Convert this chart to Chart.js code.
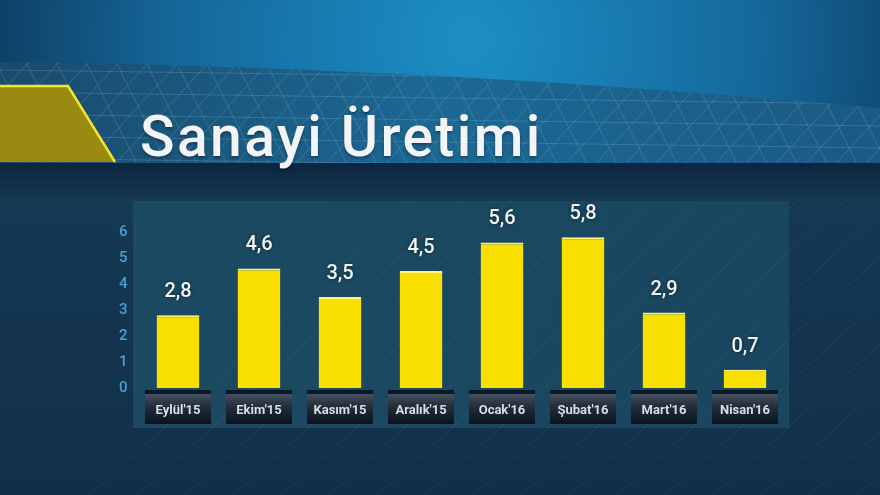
<!DOCTYPE html>
<html>
<head>
<meta charset="utf-8">
<script src="https://cdn.jsdelivr.net/npm/chart.js"></script>
<style>
  html, body { margin: 0; padding: 0; background: #163a55; }
  #wrap { position: relative; width: 880px; height: 495px; overflow: hidden; }
  #chart { position: absolute; left: 0; top: 0; }
  #title {
    position: absolute; left: 140px; top: 103px;
    font-family: Roboto, sans-serif; font-weight: 500; font-size: 57px;
    color: #f2f4f6; letter-spacing: 2.4px; white-space: nowrap;
    text-shadow: 0 2px 3px rgba(0,0,0,0.35);
  }
</style>
</head>
<body>
<div id="wrap">
  <canvas id="chart" width="880" height="495"></canvas>
  <div id="title">Sanayi Üretimi</div>
</div>
<script>
// dati
const months = ['Eylül\'15', 'Ekim\'15', 'Kasım\'15', 'Aralık\'15', 'Ocak\'16', 'Şubat\'16', 'Mart\'16', 'Nisan\'16'];
const growth = [2.8, 4.6, 3.5, 4.5, 5.6, 5.8, 2.9, 0.7];
const yTicks = [0, 1, 2, 3, 4, 5, 6];

// sfondo: testata blu, fascia a reticolo, pannello
const backdrop = {
  id: 'backdrop',
  beforeDraw(chart) {
    const c = chart.ctx;
    const W = chart.width, H = chart.height;
    c.save();
    // base
    let g = c.createLinearGradient(0, 160, 0, H);
    g.addColorStop(0, '#163a55');
    g.addColorStop(1, '#122f48');
    c.fillStyle = g;
    c.fillRect(0, 0, W, H);

    // pannello
    g = c.createLinearGradient(133, 0, 790, 0);
    g.addColorStop(0, 'rgba(27,76,100,0.9)');
    g.addColorStop(1, 'rgba(26,72,96,0.9)');
    c.fillStyle = g;
    c.fillRect(133, 201, 656, 227);

    // linee diagonali sottili
    c.strokeStyle = 'rgba(170,210,235,0.09)';
    c.lineWidth = 1;
    for (let x = 420; x < 1300; x += 48) {
      c.beginPath(); c.moveTo(x - 330, 495); c.lineTo(x, 195); c.stroke();
    }

    // testata
    g = c.createRadialGradient(470, 40, 20, 470, 40, 520);
    g.addColorStop(0, '#1b8dc3');
    g.addColorStop(0.55, '#15679a');
    g.addColorStop(1, '#0c3658');
    c.fillStyle = g;
    c.fillRect(0, 0, W, 165);

    // fascia con reticolo
    c.beginPath();
    c.moveTo(0, 62);
    c.quadraticCurveTo(420, 66, 880, 108);
    c.lineTo(880, 163);
    c.lineTo(0, 163);
    c.closePath();
    g = c.createLinearGradient(0, 0, W, 0);
    g.addColorStop(0, '#1a4a6c');
    g.addColorStop(0.5, '#1c6894');
    g.addColorStop(1, '#1a5a84');
    c.fillStyle = g;
    c.fill();
    c.save();
    c.clip();
    c.strokeStyle = 'rgba(150,200,230,0.22)';
    for (let x = -400; x < 1300; x += 30) {
      c.beginPath(); c.moveTo(x, 170); c.lineTo(x + 110, 50); c.stroke();
      c.beginPath(); c.moveTo(x, 170); c.lineTo(x - 60, 50); c.stroke();
    }
    for (let y = 70; y < 165; y += 22) {
      c.beginPath(); c.moveTo(0, y); c.lineTo(W, y + 12); c.stroke();
    }
    c.restore();

    // striscia scura
    g = c.createLinearGradient(0, 163, 0, 198);
    g.addColorStop(0, '#0d2540');
    g.addColorStop(1, '#15384f');
    c.fillStyle = g;
    c.fillRect(0, 163, W, 35);

    // trapezio giallo
    c.beginPath();
    c.moveTo(0, 86); c.lineTo(68, 86); c.lineTo(115, 162); c.lineTo(0, 162);
    c.closePath();
    c.fillStyle = '#9a8a12';
    c.fill();
    c.beginPath();
    c.moveTo(0, 86); c.lineTo(68, 86); c.lineTo(115, 162);
    c.strokeStyle = '#f2e52a';
    c.lineWidth = 2.5;
    c.stroke();
    c.restore();
  }
};

// riquadri delle etichette e valori sopra le barre
const labelBoxes = {
  id: 'labelBoxes',
  afterDatasetsDraw(chart) {
    const c = chart.ctx;
    const x = chart.scales.x;
    const meta = chart.getDatasetMeta(0);
    c.save();
    months.forEach((m, i) => {
      const cx = x.getPixelForTick(i);
      const top = chart.chartArea.bottom + 2;
      c.fillStyle = '#0a1826';
      c.fillRect(cx - 33, top, 66, 4);
      let g = c.createLinearGradient(0, top + 4, 0, top + 34);
      g.addColorStop(0, '#46525f');
      g.addColorStop(0.35, '#27323f');
      g.addColorStop(1, '#08121c');
      c.fillStyle = g;
      c.fillRect(cx - 33, top + 4, 66, 30);

      c.shadowColor = 'rgba(0,0,0,0.5)';
      c.shadowBlur = 4;
      c.fillStyle = '#f2f4f6';
      c.font = '500 20px Roboto, sans-serif';
      c.textAlign = 'center';
      c.textBaseline = 'alphabetic';
      const bar = meta.data[i];
      c.fillText(String(growth[i]).replace('.', ','), cx, bar.y - 18);
      c.shadowBlur = 0;
    });
    c.restore();
  }
};

const ctx = document.getElementById('chart').getContext('2d');

new Chart(ctx, {
  type: 'bar',
  data: {
    labels: months,
    datasets: [{
      data: growth,
      backgroundColor: '#f9e000',
      borderColor: '#fff37a',
      borderWidth: { top: 2, left: 0, right: 0, bottom: 0 },
      borderSkipped: false,
      barPercentage: 0.66,
      categoryPercentage: 0.8
    }]
  },
  options: {
    responsive: false,
    animation: false,
    layout: { padding: { left: 97.5, right: 94.5, top: 232, bottom: 67 } },
    plugins: { legend: { display: false }, tooltip: { enabled: false }, title: { display: false } },
    scales: {
      x: {
        grid: { display: false, drawTicks: false },
        border: { display: false },
        afterFit: s => { s.height = 40; },
        ticks: {
          z: 1,
          color: '#d6dde4',
          padding: 15,
          maxRotation: 0,
          font: { family: 'Roboto, sans-serif', weight: 'bold', size: 13 }
        }
      },
      y: {
        min: 0,
        max: 6,
        grid: { display: false, drawTicks: false },
        border: { display: false },
        afterFit: s => { s.width = 40; },
        afterBuildTicks: s => { s.ticks = yTicks.map(v => ({ value: v })); },
        ticks: {
          color: '#45a2d8',
          padding: 10,
          font: { family: 'Roboto, sans-serif', weight: '500', size: 15 }
        }
      }
    }
  },
  plugins: [backdrop, labelBoxes]
});
</script>
</body>
</html>
